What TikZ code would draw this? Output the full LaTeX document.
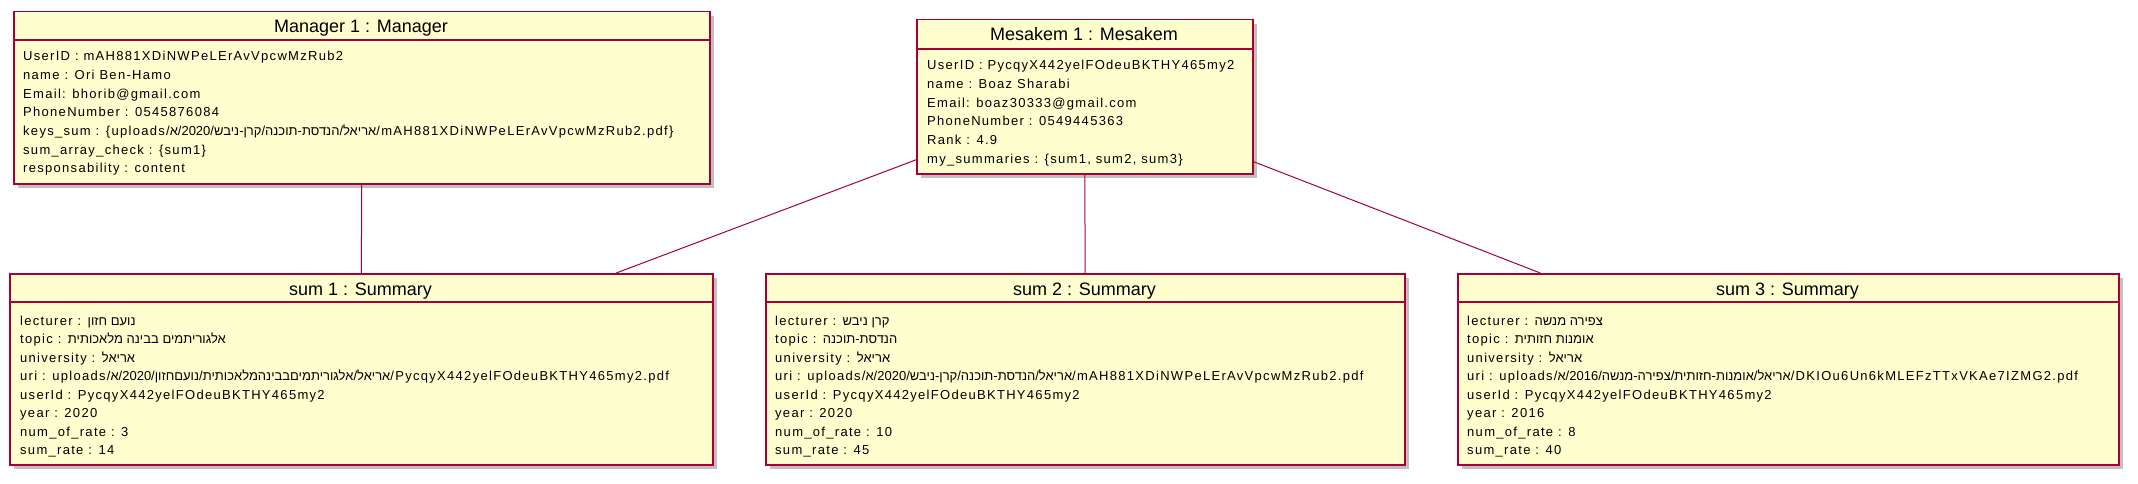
\documentclass[tikz,border=0pt]{standalone}
\usepackage{fontspec}
\setmainfont{Liberation Sans}
\newfontfamily\bodyfont[LetterSpace=10]{Liberation Sans}
\newfontfamily\hebfont[Script=Hebrew]{Liberation Sans}
\TeXXeTstate=1
\usetikzlibrary{shadows}
\newcommand{\heb}[1]{{\hebfont\beginR #1\endR}}
\definecolor{umlborder}{HTML}{A80036}
\definecolor{umlfill}{HTML}{FEFECE}
\tikzset{
  objbox/.style={draw=umlborder, fill=umlfill, line width=1.5pt, inner sep=0pt, anchor=north west,
    drop shadow={shadow xshift=4pt, shadow yshift=-4pt, fill=black!45, opacity=0.55}},
  sepline/.style={draw=umlborder, line width=1.5pt},
  titletxt/.style={anchor=base, inner sep=0pt, font=\fontsize{18}{20}\selectfont},
  bodytxt/.style={anchor=base west, inner sep=0pt, font=\bodyfont\fontsize{13}{15}\selectfont},
  conn/.style={draw=umlborder, line width=1pt}
}
\begin{document}
\begin{tikzpicture}[x=1pt, y=-1pt]
\useasboundingbox (0,0) rectangle (2138,484);
% boxes
\node[objbox, minimum width=696pt, minimum height=172pt] (mgr) at (13,11) {};
\node[objbox, minimum width=336pt, minimum height=154pt] (mes) at (916,19) {};
\node[objbox, minimum width=703pt, minimum height=191pt] (s1) at (9,273) {};
\node[objbox, minimum width=639pt, minimum height=191pt] (s2) at (765,273) {};
\node[objbox, minimum width=661pt, minimum height=191pt] (s3) at (1457,273) {};
% connectors
\draw[conn] (mgr) -- (s1);
\draw[conn] (mes) -- (s1);
\draw[conn] (mes) -- (s2);
\draw[conn] (mes) -- (s3);
% separators
\draw[sepline] (13,40) -- (709,40);
\draw[sepline] (916,49) -- (1252,49);
\draw[sepline] (9,302) -- (712,302);
\draw[sepline] (765,302) -- (1404,302);
\draw[sepline] (1457,302) -- (2118,302);
% titles
\node[titletxt] (mgr-t) at (361,32.5) {Manager 1 : Manager};
\node[titletxt] (mes-t) at (1084,41) {Mesakem 1 : Mesakem};
\node[titletxt] (s1-t) at (360.5,295) {sum 1 : Summary};
\node[titletxt] (s2-t) at (1084.5,295) {sum 2 : Summary};
\node[titletxt] (s3-t) at (1787.5,295) {sum 3 : Summary};
% manager body
\foreach \t [count=\i] in {
  {UserID : mAH881XDiNWPeLErAvVpcwMzRub2},
  {name : Ori Ben-Hamo},
  {Email: bhorib@gmail.com},
  {PhoneNumber : 0545876084},
  {keys\_sum : \{uploads/\heb{אריאל/הנדסת-תוכנה/קרן-ניבש/2020/א}/mAH881XDiNWPeLErAvVpcwMzRub2.pdf\}},
  {sum\_array\_check : \{sum1\}},
  {responsability : content}}
  \node[bodytxt] (mgr-l\i) at (23,{42.03+18.67*\i}) {\t};
% mesakem body
\foreach \t [count=\i] in {
  {UserID : PycqyX442yelFOdeuBKTHY465my2},
  {name : Boaz Sharabi},
  {Email: boaz30333@gmail.com},
  {PhoneNumber : 0549445363},
  {Rank : 4.9},
  {my\_summaries : \{sum1, sum2, sum3\}}}
  \node[bodytxt] (mes-l\i) at (927,{51.34+18.66*\i}) {\t};
% sum1 body
\foreach \t [count=\i] in {
  {lecturer : \heb{נועם חזון}},
  {topic : \heb{אלגוריתמים בבינה מלאכותית}},
  {university : \heb{אריאל}},
  {uri : uploads/\heb{אריאל/אלגוריתמיםבבינהמלאכותית/נועםחזון/2020/א}/PycqyX442yelFOdeuBKTHY465my2.pdf},
  {userId : PycqyX442yelFOdeuBKTHY465my2},
  {year : 2020},
  {num\_of\_rate : 3},
  {sum\_rate : 14}}
  \node[bodytxt] (s1-l\i) at (20,{306.43+18.57*\i}) {\t};
% sum2 body
\foreach \t [count=\i] in {
  {lecturer : \heb{קרן ניבש}},
  {topic : \heb{הנדסת-תוכנה}},
  {university : \heb{אריאל}},
  {uri : uploads/\heb{אריאל/הנדסת-תוכנה/קרן-ניבש/2020/א}/mAH881XDiNWPeLErAvVpcwMzRub2.pdf},
  {userId : PycqyX442yelFOdeuBKTHY465my2},
  {year : 2020},
  {num\_of\_rate : 10},
  {sum\_rate : 45}}
  \node[bodytxt] (s2-l\i) at (775,{306.43+18.57*\i}) {\t};
% sum3 body
\foreach \t [count=\i] in {
  {lecturer : \heb{צפירה מנשה}},
  {topic : \heb{אומנות חזותית}},
  {university : \heb{אריאל}},
  {uri : uploads/\heb{אריאל/אומנות-חזותית/צפירה-מנשה/2016/א}/DKIOu6Un6kMLEFzTTxVKAe7IZMG2.pdf},
  {userId : PycqyX442yelFOdeuBKTHY465my2},
  {year : 2016},
  {num\_of\_rate : 8},
  {sum\_rate : 40}}
  \node[bodytxt] (s3-l\i) at (1467,{306.43+18.57*\i}) {\t};
\end{tikzpicture}
\end{document}
